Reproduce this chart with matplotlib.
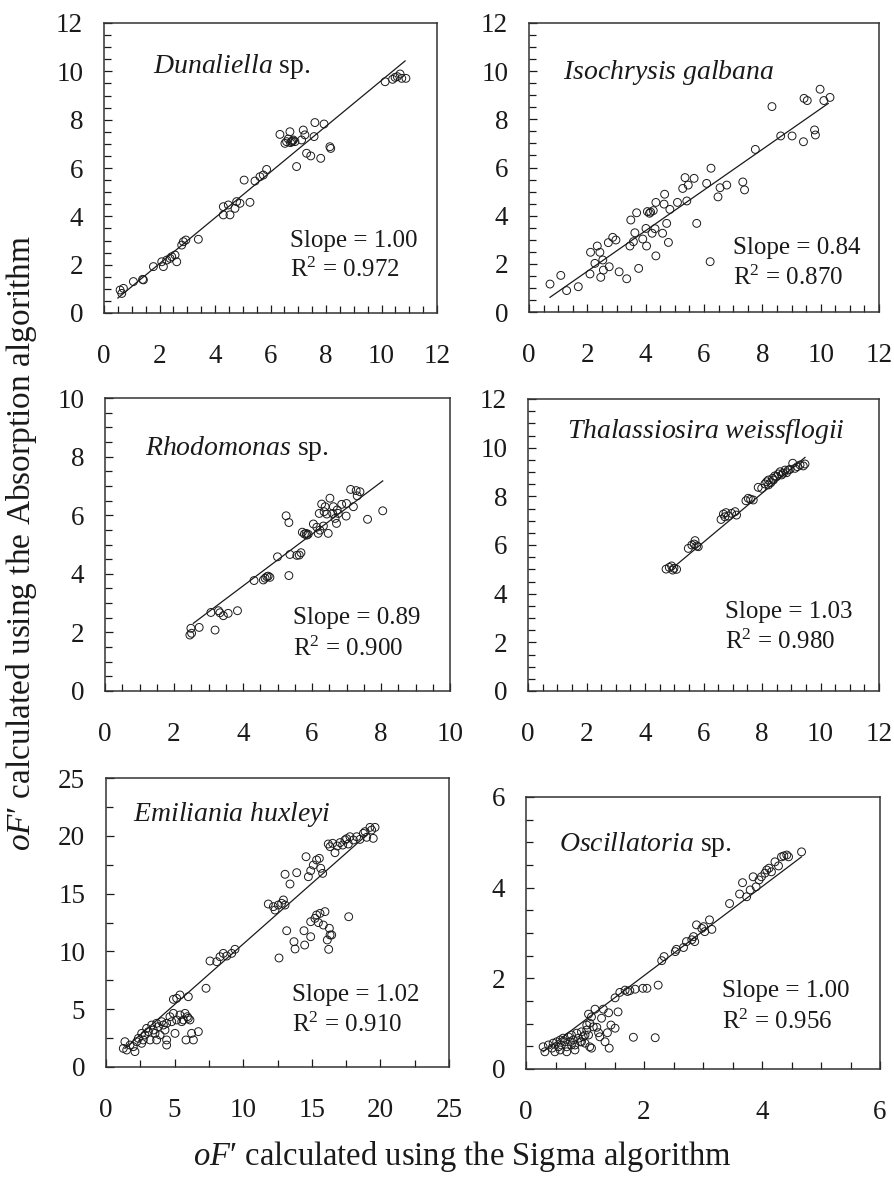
import numpy as np
import matplotlib
matplotlib.use("Agg")
import matplotlib.pyplot as plt
from matplotlib.ticker import MultipleLocator

plt.rcParams['font.family'] = ['Liberation Serif', 'DejaVu Serif']
plt.rcParams['mathtext.fontset'] = 'custom'
plt.rcParams['mathtext.rm'] = 'Liberation Serif'
plt.rcParams['mathtext.it'] = 'Liberation Serif:italic'

# ---------------- data ----------------
dun_x = [0.58, 0.64, 0.70, 1.06, 1.39, 1.42, 1.78, 2.08, 2.14, 2.26, 2.38, 2.44, 2.56, 2.62, 2.80, 2.86, 2.95,
         3.40, 4.30, 4.30, 4.48, 4.54, 4.72, 4.78, 4.90, 5.26, 5.05, 5.44, 5.62, 5.74, 5.86, 6.34, 6.52, 6.58,
         6.70, 6.76, 6.82, 6.88, 6.94, 7.12, 7.18, 7.24, 7.30, 7.45, 7.57, 7.60, 7.81, 7.93, 8.14, 8.17,
         10.13, 10.40, 10.49, 10.57, 10.67, 10.73, 10.88, 6.72, 6.80, 6.64]
dun_y = [0.95, 0.81, 1.02, 1.30, 1.39, 1.37, 1.92, 2.12, 1.92, 2.19, 2.26, 2.33, 2.40, 2.12, 2.81, 2.95, 3.02,
         3.05, 4.40, 4.06, 4.47, 4.06, 4.33, 4.61, 4.54, 4.58, 5.50, 5.46, 5.64, 5.71, 5.94, 7.39, 7.02, 7.09,
         7.50, 7.09, 7.16, 7.09, 6.06, 7.16, 7.57, 7.37, 6.61, 6.50, 7.30, 7.88, 6.40, 7.82, 6.88, 6.81,
         9.57, 9.67, 9.75, 9.78, 9.89, 9.71, 9.71, 7.05, 7.12, 7.20]

iso_x = [0.72, 1.09, 1.29, 1.69, 2.09, 2.11, 2.26, 2.34, 2.43, 2.46, 2.53, 2.55, 2.72, 2.75, 2.87, 2.98, 3.09,
         3.35, 3.46, 3.49, 3.58, 3.63, 3.69, 3.76, 3.90, 4.01, 4.03, 4.06, 4.13, 4.17, 4.22, 4.26, 4.32, 4.35,
         4.35, 4.58, 4.63, 4.65, 4.72, 4.78, 4.83, 5.09, 5.27, 5.35, 5.41, 5.46, 5.66, 5.75, 6.09, 6.21, 6.24,
         6.48, 6.55, 6.78, 7.33, 7.39, 7.76, 8.33, 8.63, 9.02, 9.41, 9.43, 9.54, 9.79, 9.82, 9.98, 10.11, 10.32]
iso_y = [1.16, 1.52, 0.89, 1.05, 1.58, 2.48, 2.02, 2.74, 2.48, 1.44, 2.16, 1.74, 2.88, 1.88, 3.10, 2.99, 1.67,
         1.38, 2.74, 3.82, 2.92, 3.29, 4.12, 1.81, 3.03, 3.47, 2.74, 4.17, 4.10, 4.15, 3.27, 4.21, 3.46, 2.33,
         4.55, 3.27, 4.48, 4.89, 3.68, 2.89, 4.26, 4.55, 5.13, 5.58, 4.61, 5.27, 5.55, 3.68, 5.34, 2.09, 5.97,
         4.78, 5.16, 5.27, 5.40, 5.07, 6.75, 8.53, 7.31, 7.31, 7.07, 8.87, 8.78, 7.56, 7.35, 9.25, 8.78, 8.91]

rho_x = [2.46, 2.49, 2.51, 2.73, 3.07, 3.19, 3.29, 3.33, 3.43, 3.57, 3.84, 4.32, 4.59, 4.64, 4.69, 4.73, 4.78,
         5.00, 5.25, 5.33, 5.33, 5.36, 5.56, 5.63, 5.68, 5.72, 5.78, 5.83, 5.89, 6.04, 6.14, 6.18, 6.21, 6.28,
         6.33, 6.35, 6.38, 6.43, 6.47, 6.52, 6.60, 6.67, 6.71, 6.76, 6.86, 6.99, 7.00, 7.12, 7.20, 7.28, 7.31,
         7.39, 7.61, 8.05, 6.23, 5.85, 6.62, 6.73]
rho_y = [1.91, 2.14, 1.97, 2.17, 2.68, 2.08, 2.74, 2.67, 2.57, 2.65, 2.74, 3.77, 3.79, 3.85, 3.90, 3.92, 3.88,
         4.58, 5.98, 5.75, 3.94, 4.66, 4.63, 4.64, 4.72, 5.42, 5.36, 5.38, 5.35, 5.70, 5.59, 5.38, 6.06, 6.38,
         5.63, 6.12, 6.29, 6.04, 5.38, 6.58, 6.06, 5.89, 5.72, 6.06, 6.37, 5.97, 6.40, 6.88, 6.29, 6.84, 6.66,
         6.80, 5.86, 6.15, 5.49, 5.32, 6.29, 6.18]

tha_x = [4.72, 4.83, 4.91, 4.99, 5.08, 4.95, 5.48, 5.60, 5.68, 5.77, 5.82, 5.71, 6.60, 6.68, 6.77, 6.85, 6.96,
         7.08, 7.13, 6.73, 7.45, 7.53, 7.61, 7.70, 7.87, 7.99, 8.10, 8.16, 8.22, 8.30, 8.36, 8.44, 8.50, 8.56,
         8.62, 8.73, 8.79, 8.84, 8.96, 9.05, 9.13, 9.21, 9.30, 9.41, 9.47, 8.39, 8.67, 8.90, 8.22]
tha_y = [5.01, 5.08, 5.14, 5.04, 5.00, 4.97, 5.86, 6.00, 6.04, 5.96, 5.93, 6.18, 7.05, 7.27, 7.33, 7.19, 7.30,
         7.37, 7.23, 7.16, 7.82, 7.92, 7.88, 7.85, 8.37, 8.33, 8.51, 8.60, 8.67, 8.56, 8.74, 8.84, 8.81, 8.92,
         9.01, 8.95, 9.08, 8.97, 9.11, 9.36, 9.15, 9.22, 9.29, 9.25, 9.33, 8.67, 8.88, 9.08, 8.47]

emi_x = [1.26, 1.38, 1.51, 1.75, 1.99, 2.11, 2.24, 2.36, 2.60, 2.60, 2.72, 2.84, 2.96, 3.09, 3.21, 3.33, 3.45,
         3.57, 3.69, 3.81, 3.94, 4.06, 4.18, 4.30, 4.42, 4.42, 4.66, 4.79, 4.91, 5.03, 5.15, 5.39, 5.52, 5.64,
         5.76, 5.83, 5.93, 6.00, 6.12, 6.24, 6.37, 6.73, 3.69, 4.42, 4.91, 5.15, 5.39, 6.00, 7.29, 7.58, 8.07,
         8.31, 8.55, 8.80, 9.16, 9.40, 11.83, 12.20, 12.32, 12.56, 12.80, 12.93, 13.05, 13.05, 13.41, 13.90,
         14.58, 14.75, 14.92, 15.11, 15.35, 15.55, 15.65, 15.79, 16.20, 16.33, 16.52, 16.69, 16.86, 17.06,
         17.25, 17.42, 17.54, 17.66, 17.78, 18.03, 18.27, 18.51, 18.76, 18.88, 19.00, 19.24, 19.36, 19.48,
         19.61, 12.61, 13.17, 13.70, 13.78, 14.43, 14.48, 14.92, 14.92, 15.23, 15.35, 15.48, 15.60, 15.84,
         15.96, 16.13, 16.28, 16.33, 16.45, 16.23, 17.69]
emi_y = [1.61, 2.19, 1.47, 1.90, 1.76, 1.33, 2.19, 2.48, 2.05, 2.91, 2.34, 2.77, 3.34, 3.06, 2.34, 3.63, 3.20,
         2.91, 3.78, 3.49, 2.77, 3.92, 3.63, 3.20, 2.34, 1.90, 4.35, 3.92, 4.64, 2.91, 4.07, 4.50, 3.92, 4.07,
         4.64, 2.34, 4.35, 4.21, 4.07, 2.91, 2.34, 3.06, 2.34, 3.78, 5.85, 5.94, 6.23, 6.08, 6.81, 9.17, 9.11,
         9.54, 9.83, 9.60, 9.83, 10.18, 14.10, 13.87, 13.58, 14.01, 14.16, 14.45, 14.01, 16.67, 15.83, 16.81,
         18.19, 16.46, 16.98, 17.47, 17.91, 18.05, 17.19, 16.75, 19.29, 19.06, 19.35, 18.54, 19.12, 19.41,
         19.20, 19.64, 19.75, 19.29, 19.92, 19.64, 19.92, 19.69, 20.21, 20.36, 19.87, 20.73, 20.50, 19.78,
         20.73, 9.43, 11.79, 10.84, 10.21, 11.79, 10.55, 12.57, 11.27, 12.86, 13.15, 12.49, 13.29, 12.28,
         13.44, 10.99, 12.00, 11.42, 11.42, 10.18, 13.00]

osc_x = [0.29, 0.32, 0.38, 0.44, 0.46, 0.49, 0.52, 0.55, 0.58, 0.60, 0.63, 0.66, 0.69, 0.72, 0.75, 0.77, 0.80,
         0.83, 0.86, 0.89, 0.92, 0.94, 0.97, 1.00, 1.03, 1.06, 1.08, 1.11, 0.83, 0.69, 0.58, 1.00, 0.94, 0.77,
         1.06, 1.11, 1.17, 1.20, 1.23, 1.25, 1.28, 1.31, 1.34, 1.38, 1.40, 1.41, 1.44, 1.51, 1.56, 1.82, 2.19,
         1.14, 1.08, 1.03, 1.51, 1.59, 1.68, 1.72, 1.76, 1.85, 1.98, 2.05, 2.24, 2.30, 2.34, 2.53, 2.55, 2.67,
         2.72, 2.81, 2.84, 2.86, 2.89, 2.98, 3.01, 3.03, 3.11, 3.15, 3.45, 3.62, 3.67, 3.74, 3.80, 3.85, 3.90,
         3.95, 3.99, 4.05, 4.08, 4.12, 4.16, 4.22, 4.28, 4.33, 4.37, 4.42, 4.45, 4.67]
osc_y = [0.49, 0.38, 0.53, 0.46, 0.57, 0.38, 0.60, 0.49, 0.64, 0.53, 0.68, 0.60, 0.49, 0.71, 0.60, 0.75, 0.64,
         0.53, 0.79, 0.68, 0.60, 0.82, 0.71, 0.57, 0.86, 0.75, 0.49, 0.46, 0.42, 0.38, 0.42, 0.75, 0.60, 0.53,
         1.21, 1.15, 1.32, 0.92, 0.80, 0.71, 1.12, 1.32, 0.60, 0.80, 1.24, 0.46, 0.97, 0.90, 1.26, 0.70, 0.69,
         0.93, 1.01, 0.97, 1.57, 1.69, 1.74, 1.71, 1.73, 1.76, 1.78, 1.78, 1.85, 2.39, 2.48, 2.59, 2.64, 2.68,
         2.81, 2.85, 2.92, 2.81, 3.18, 3.10, 3.14, 3.03, 3.29, 3.08, 3.65, 3.86, 4.11, 3.80, 3.95, 4.24, 4.02,
         4.17, 4.24, 4.32, 4.39, 4.43, 4.35, 4.57, 4.48, 4.68, 4.70, 4.72, 4.68, 4.79]

# regression-line end points (x range, fitted y)
fit_x = [[0.50, 10.85], [0.72, 10.26], [2.56, 8.05], [4.97, 9.47], [1.38, 19.0], [0.29, 4.67]]
fit_y = [[0.62, 10.43], [0.61, 8.66], [2.31, 7.17], [5.08, 9.60], [1.61, 20.07], [0.38, 4.68]]

species_it = ["Dunaliella", "Isochrysis galbana", "Rhodomonas", "Thalassiosira weissflogii",
              "Emiliania huxleyi", "Oscillatoria"]
species_suffix = [" sp.", "", " sp.", "", "", " sp."]
slopes = ["1.00", "0.84", "0.89", "1.03", "1.02", "1.00"]
r2 = ["0.972", "0.870", "0.900", "0.980", "0.910", "0.956"]
axis_max = [12, 12, 10, 12, 25, 6]
major_step = [2, 2, 2, 2, 5, 2]
minor_step = [0.5, 0.5, 0.5, 0.5, 2.5, 0.5]

xs = [dun_x, iso_x, rho_x, tha_x, emi_x, osc_x]
ys = [dun_y, iso_y, rho_y, tha_y, emi_y, osc_y]

# ---------------- layout ----------------
W, H = 894, 1178
fig = plt.figure(figsize=(W / 100, H / 100), dpi=100)

# pixel boxes: left, right, top, bottom
boxes = [(104, 437, 23, 313), (529, 879, 23, 312),
         (105, 450, 398, 691), (528, 879, 399, 691),
         (106, 449, 778, 1067), (526, 880, 797, 1069)]
title_pos = [(0.147, 0.85), (0.097, 0.83), (0.116, 0.826), (0.111, 0.887), (0.079, 0.875), (0.093, 0.824)]
stat_pos = [(0.56, 0.248, 0.148), (0.583, 0.221, 0.118), (0.545, 0.249, 0.143),
            (0.561, 0.27, 0.168), (0.542, 0.249, 0.145), (0.554, 0.287, 0.173)]

ink = '#1a1a1a'
fs_tick = 19.5
fs_title = 20
fs_stat = 18

for i in range(6):
    l, r, t, b = boxes[i]
    ax = fig.add_axes([l / W, 1 - b / H, (r - l) / W, (b - t) / H])
    ax.scatter(xs[i], ys[i], s=32, facecolors='none', edgecolors=ink, linewidths=0.7, zorder=3)
    ax.plot(fit_x[i], [fit_y[i][0], fit_y[i][1]], color=ink, lw=0.9, zorder=2)
    ax.set_xlim(0, axis_max[i])
    ax.set_ylim(0, axis_max[i])
    ax.xaxis.set_major_locator(MultipleLocator(major_step[i]))
    ax.yaxis.set_major_locator(MultipleLocator(major_step[i]))
    ax.xaxis.set_minor_locator(MultipleLocator(minor_step[i]))
    ax.yaxis.set_minor_locator(MultipleLocator(minor_step[i]))
    ax.tick_params(which='both', direction='in', top=False, right=False, color=ink, width=0.9)
    ax.tick_params(which='major', length=6, labelsize=fs_tick, labelcolor=ink)
    ax.tick_params(which='minor', length=5)
    ax.tick_params(axis='x', which='major', pad=22)
    ax.tick_params(axis='y', which='major', pad=15)
    for sp in ax.spines.values():
        sp.set_color('#333333')
        sp.set_linewidth(1.1)
    name = species_it[i].replace(' ', r'\ ')
    ax.text(title_pos[i][0], title_pos[i][1], r"$\mathit{" + name + "}$" + species_suffix[i],
            transform=ax.transAxes, fontsize=fs_title, va='center', ha='left', color=ink)
    sx, sy1, sy2 = stat_pos[i]
    ax.text(sx, sy1, "Slope = " + slopes[i], transform=ax.transAxes, fontsize=fs_stat,
            va='center', ha='left', color=ink)
    ax.text(sx, sy2, "R$^2$ = " + r2[i], transform=ax.transAxes, fontsize=fs_stat,
            va='center', ha='left', color=ink)

fig.text(22 / W, 1 - 543 / H, r"$\mathit{oF}$" + "\u2032 calculated using the Absorption algorithm",
         rotation=90, fontsize=24, ha='center', va='center', color=ink)
fig.text(462 / W, 1 - 1156 / H, r"$\mathit{oF}$" + "\u2032 calculated using the Sigma algorithm",
         fontsize=23.5, ha='center', va='center', color=ink)

fig.savefig("out.png", dpi=100, facecolor='white')
